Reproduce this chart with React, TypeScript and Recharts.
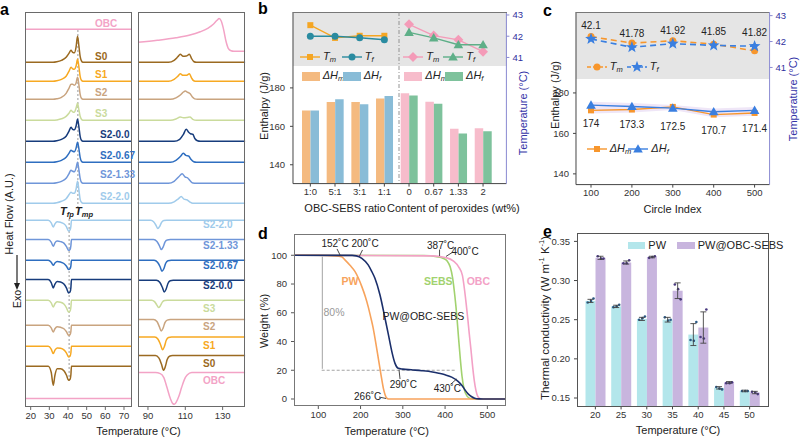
import React from 'react';
import {
  LineChart, Line, XAxis, YAxis, ReferenceLine, ComposedChart, Bar, Cell,
  Area, ErrorBar, LabelList,
} from 'recharts';

const FONT = '"Liberation Sans Narrow", "Liberation Sans", Arial, sans-serif';
const TICK = { fontSize: 9.5, fill: '#333', fontFamily: FONT };

/* ---------------- a: DSC traces ---------------- */
const dscNames = ['OBC', 'S0', 'S1', 'S2', 'S3', 'S2-0.0', 'S2-0.67', 'S2-1.33', 'S2-2.0'];
const dscColors = ['#f3a3c6', '#9b6a21', '#f7a922', '#c9a47f', '#cadb9c', '#173c7c', '#2e6ec0', '#6f96d9', '#a0cbeb'];

// offsets of the stacked traces (A.U.)
const heatBaseL = [377.7, 344.7, 325.7, 307.7, 286.7, 265.7, 244.7, 223.7, 203.7];
const heatBaseR = [355.7, 344.7, 325.7, 307.7, 286.7, 265.7, 244.7, 223.7, 203.7];
const coolBaseL = [8.4, 40.7, 60.7, 81.7, 106.7, 127.4, 146.7, 167.4, 186.7];
const coolBaseR = [34.4, 51.4, 70, 87.4, 106.7, 126.7, 146.7, 167.4, 186.7];

// heating, 17-74 °C
const heatTL = [16.96, 32, 34, 36.5, 39, 40.5, 41.6, 42.5, 43.4, 44.3, 45.1, 45.8, 46.5, 47.2, 48, 74.12];
const heatDyL = [
  [0, 0, 0, 0, 0, 0, 0, 0, 0, 0, 0, 0, 0, 0, 0, 0],
  [0, 0, 0.5, 2, 5, 9, 12, 10, 9.5, 15, 26, 17, 6, 1.5, 0, 0],
  [0, 0, 0.5, 2, 5, 10, 14, 12.5, 12, 15, 22, 15, 5, 1, 0, 0],
  [0, 0, 0.5, 2, 6, 11, 15, 15, 14, 16, 22, 15, 5, 1, 0, 0],
  [0, 0, 0.4, 1.5, 4, 7, 10, 8.5, 8, 12, 17, 11, 4, 1, 0, 0],
  [0, 0, 0.5, 2, 5, 10, 14, 12, 11.5, 15, 22, 15, 5, 1, 0, 0],
  [0, 0, 0.5, 2, 5, 9, 12, 11, 10.5, 14, 20, 14, 5, 1, 0, 0],
  [0, 0, 0.5, 2, 5, 9.5, 13, 12, 11.5, 15, 21, 14, 5, 1, 0, 0],
  [0, 0, 0.5, 2, 4.5, 8.5, 11, 10, 10, 14, 22, 14, 4, 1, 0, 0],
];

// cooling, 17-74 °C
const coolTL = [16.96, 29.4, 31, 32.1, 33, 34.2, 36, 37.8, 39.2, 40.3, 41.1, 41.55, 41.85, 74.12];
const coolDyL = [
  [0, 0, 0, 0, 0, 0, 0, 0, 0, 0, 0, 0, 0, 0],
  [0, 0, -6, -19, -9, -2.5, -2.5, -4.5, -9, -14, -13, -8.5, 0, 0],
  [0, 0, -2.8, -7.3, -3.8, -1.6, -2, -3.6, -6.8, -10.7, -10, -6.5, 0, 0],
  [0, 0, -2.5, -6.7, -3.5, -1.5, -2, -3.5, -6.5, -10, -9.3, -6, 0, 0],
  [0, 0, -2.5, -6.7, -3.5, -1.5, -2, -3.8, -7.5, -11.7, -10.8, -7, 0, 0],
  [0, 0, -3, -8.3, -4.5, -2, -2.5, -4.5, -8.5, -13.3, -12.5, -8, 0, 0],
  [0, 0, -2, -5, -2.8, -1.3, -1.8, -3.2, -6, -9.3, -8.5, -5.5, 0, 0],
  [0, 0, -2.5, -6.7, -3.3, -1.5, -2, -3.5, -7, -10.7, -9.8, -6, 0, 0],
  [0, 0, -2.5, -6.7, -3.5, -1.5, -2, -3.5, -6.5, -10.7, -9.5, -6, 0, 0],
];

// heating, 85-142 °C
const heatR = [
  [[84.66, 9], [95, 11], [105, 13.5], [112, 16], [118, 19.5], [122, 23], [125, 27], [127, 31], [128.1, 32.7], [129.3, 30], [130.5, 22], [131.8, 10], [133, 3], [134.5, 0.5], [136, 0], [142.14, 0]],
  [[84.66, 0], [101, 0], [104, 2], [106, 5.5], [107.3, 8], [108.8, 6], [110.5, 6.2], [112.2, 8], [113.3, 4], [114.5, 0.8], [116, 0], [142.14, 0]],
  [[84.66, 0], [101, 0], [104, 2], [106, 5], [107.3, 7.5], [108.8, 6], [110.5, 6], [112.2, 7.5], [113.3, 3.5], [114.5, 0.6], [116, 0], [142.14, 0]],
  [[84.66, 0], [102, 0], [105, 1.5], [107.5, 4.5], [109, 7.3], [110, 8.3], [111, 7.2], [112.6, 5.5], [113.8, 2.2], [115, 0.4], [116.5, 0], [142.14, 0]],
  [[84.66, 0], [102, 0], [105, 1.3], [107.3, 3.3], [109, 2.6], [110.8, 2.8], [112.5, 3.3], [114, 1], [116, 0], [142.14, 0]],
  [[84.66, 0], [104, 0], [107, 2], [109, 7], [110.5, 12], [111.8, 9], [112.8, 7.5], [114, 7], [115.2, 2.5], [116.5, 0.5], [118, 0], [142.14, 0]],
  [[84.66, 0], [102, 0], [105, 2], [107.5, 6], [108.9, 9], [110.3, 7], [111.8, 6.3], [113, 3], [114.5, 0.5], [116, 0], [142.14, 0]],
  [[84.66, 0], [101, 0], [104, 2], [106.5, 6.5], [108.3, 9.5], [109.8, 6.5], [111.3, 5.3], [112.6, 2.5], [114, 0.3], [116, 0], [142.14, 0]],
  [[84.66, 0], [101, 0], [104, 1.5], [106.3, 4.5], [107.8, 6.7], [109.3, 4.2], [110.8, 3.6], [112.3, 1.5], [114, 0], [142.14, 0]],
];

// cooling, 85-142 °C
const coolR = [
  [[84.66, 0], [94, 0], [96.6, -1], [98.5, -5], [100.2, -15], [102, -26], [103.3, -31], [104.1, -31.7], [105, -30], [106.5, -24], [108, -15], [109.5, -7], [111, -2.5], [113.5, 0], [142.14, 0]],
  [[84.66, 0], [94, 0], [95.9, -2.5], [97.3, -9], [98.3, -14.7], [99.3, -11], [100.3, -4], [101.5, -0.6], [103.2, 0], [142.14, 0]],
  [[84.66, 0], [93.6, 0], [95.4, -2.2], [96.8, -8], [97.8, -12.7], [98.8, -9.5], [99.8, -3.3], [101, -0.5], [102.7, 0], [142.14, 0]],
  [[84.66, 0], [93, 0], [94.8, -2], [96.1, -7], [97.1, -11.3], [98.1, -8.5], [99.1, -3], [100.3, -0.5], [102, 0], [142.14, 0]],
  [[84.66, 0], [92, 0], [93.5, -1.3], [94.7, -4.5], [95.7, -7.3], [96.7, -5.3], [97.7, -1.8], [98.9, -0.3], [100.5, 0], [142.14, 0]],
  [[84.66, 0], [94.5, 0], [96.3, -2], [97.7, -7], [98.7, -11.7], [99.7, -9], [100.7, -3.2], [101.9, -0.5], [103.5, 0], [142.14, 0]],
  [[84.66, 0], [93.3, 0], [95.1, -2], [96.5, -6.5], [97.5, -11], [98.5, -8.5], [99.5, -3], [100.7, -0.5], [102.5, 0], [142.14, 0]],
  [[84.66, 0], [93, 0], [94.8, -1.8], [96.1, -6], [97.1, -10], [98.1, -7.5], [99.1, -2.5], [100.3, -0.4], [102, 0], [142.14, 0]],
  [[84.66, 0], [91.5, 0], [93, -1.5], [94.3, -5], [95.3, -8.3], [96.3, -6], [97.3, -2], [98.5, -0.3], [100, 0], [142.14, 0]],
];

const heatLabelY = [24, 57, 75.3, 93.3, 114, 135.3, 155.7, 175.3, 197];
const coolLabelY = [380.7, 364, 346, 327.3, 308.7, 286, 266, 246, 225];

/* ---------------- b: enthalpy / temperature ---------------- */
const ratioCats = ['1:0', '5:1', '3:1', '1:1'];
const peroxCats = ['0', '0.67', '1.33', '2'];
const hmRatio = [168.2, 172.7, 172.7, 174.5];
const hfRatio = [168.2, 174.1, 171.5, 175.8];
const hmPerox = [177.2, 172.8, 158.7, 159.0];
const hfPerox = [176.0, 171.7, 156.3, 157.5];
const tmRatio = [42.52, 41.92, 42.02, 42.02];
const tfRatio = [42.0, 42.0, 41.93, 41.83];
const tmPerox = [42.56, 42.03, 41.83, 41.27];
const tfPerox = [42.18, 41.92, 41.6, 41.6];

/* ---------------- c: cycling ---------------- */
const cycles = [100, 200, 300, 400, 500];
const tmCycle = [42.19, 41.94, 42.03, 41.9, 41.64];
const tfCycle = [42.1, 41.78, 41.92, 41.85, 41.82];
const hmCycle = [171.4, 171.8, 173.1, 169.3, 170.1];
const hfCycle = [174, 173.3, 172.5, 170.7, 171.4];
const hBandLow = [169.8, 170.3, 171.6, 168, 168.7];
const hBandHigh = [175.6, 175, 174, 172.3, 173];

/* ---------------- d: TGA ---------------- */
const tgaPW = [[40, 100], [100, 100], [140, 99.6], [155, 99], [163, 96.8], [175, 93], [187, 88.6], [195, 84], [203, 78.2], [211, 71.5], [218, 64.3], [224, 57], [230, 49.2], [236, 39], [242, 28.3], [248, 17.5], [254, 7.4], [258, 3], [262, 0.6], [266, 0], [545, 0]];
const tgaComp = [[40, 100], [180, 99.9], [190, 99.6], [203, 97.9], [218, 93.3], [226, 89], [234, 84], [246, 72.4], [258, 56], [266, 44.6], [274, 33], [281.5, 24.8], [289, 21.4], [300, 20.8], [320, 20.3], [345, 19.7], [370, 18.8], [385, 17.9], [400, 16.8], [415.6, 15.2], [431.4, 12.1], [440, 9.4], [447.2, 6.3], [455, 3.4], [463, 1.6], [470, 0.6], [480, 0.1], [490, 0], [545, 0]];
const tgaSEBS = [[40, 100], [350, 99.8], [380, 99], [395, 98], [405, 96], [412, 92], [418, 84], [423, 72], [428, 57], [432, 42], [436, 28], [440, 16], [445, 7], [452, 2], [460, 0.3], [470, 0], [545, 0]];
const tgaOBC = [[40, 100], [370, 99.6], [400, 98.5], [420, 96], [432, 92], [441, 86], [446, 76], [450, 66], [454, 55], [457, 46], [461, 35], [465, 23], [469, 13], [473, 6], [477, 2], [482, 0.4], [490, 0], [545, 0]];

/* ---------------- e: thermal conductivity ---------------- */
const eTemps = ['20', '25', '30', '35', '40', '45', '50'];
const kPW = [0.274, 0.267, 0.251, 0.25, 0.231, 0.163, 0.159];
const kComp = [0.329, 0.323, 0.33, 0.287, 0.24, 0.17, 0.157];
const kPWErr = [0.002, 0.0015, 0.002, 0.003, 0.014, 0.0015, 0.001];
const kCompErr = [0.002, 0.002, 0.001, 0.01, 0.02, 0.001, 0.0015];
const kPWDots = [[0.272, 0.274, 0.277], [0.266, 0.267, 0.269], [0.25, 0.252, 0.254], [0.253, 0.249, 0.25], [0.224, 0.223, 0.247], [0.164, 0.162, 0.161], [0.159, 0.159, 0.159]];
const kCompDots = [[0.331, 0.328, 0.328], [0.322, 0.322, 0.326], [0.329, 0.33, 0.331], [0.295, 0.289, 0.276], [0.228, 0.226, 0.263], [0.169, 0.169, 0.17], [0.158, 0.157, 0.155]];
const E_MIN = 0.1393;

/* ---------------- helpers ---------------- */
type P = { [k: string]: any };

function Txt({ x, y, children, size = 11, color = '#222', bold = false, italic = false, align = 'center', rotate = 0 }: P) {
  const tx = align === 'center' ? '-50%' : align === 'left' ? '0%' : '-100%';
  return (
    <div style={{
      position: 'absolute', left: x, top: y, whiteSpace: 'nowrap', lineHeight: 1,
      fontSize: size, color, fontWeight: bold ? 700 : 400, fontStyle: italic ? 'italic' : 'normal',
      transform: `translate(${tx},-50%)${rotate ? ` rotate(${rotate}deg)` : ''}`,
    }}>{children}</div>
  );
}

function Box({ x, y, w, h, style }: P) {
  return <div style={{ position: 'absolute', left: x, top: y, width: w, height: h, boxSizing: 'border-box', ...style }} />;
}

function marker(kind: string, cx: number, cy: number, s: number, fill: string) {
  if (kind === 'square') return <rect x={cx - s / 2} y={cy - s / 2} width={s} height={s} fill={fill} />;
  if (kind === 'circle') return <circle cx={cx} cy={cy} r={s / 2} fill={fill} />;
  if (kind === 'diamond') {
    const r = s * 0.62;
    return <path d={`M${cx},${cy - r}L${cx + r},${cy}L${cx},${cy + r}L${cx - r},${cy}Z`} fill={fill} />;
  }
  if (kind === 'triangle') {
    const r = s * 0.6;
    return <path d={`M${cx},${cy - r}L${cx + r},${cy + r * 0.75}L${cx - r},${cy + r * 0.75}Z`} fill={fill} />;
  }
  const pts: string[] = [];
  for (let i = 0; i < 10; i++) {
    const rr = i % 2 === 0 ? s * 0.62 : s * 0.26;
    const a = -Math.PI / 2 + (i * Math.PI) / 5;
    pts.push(`${cx + rr * Math.cos(a)},${cy + rr * Math.sin(a)}`);
  }
  return <polygon points={pts.join(' ')} fill={fill} />;
}

const dotOf = (kind: string, color: string, size: number) => (p: any) => {
  const k = `m${p.index}`;
  if (p.cx == null || p.cy == null || p.value == null) return <g key={k} />;
  return <g key={k}>{marker(kind, p.cx, p.cy, size, color)}</g>;
};

function LineKey({ x, y, color, kind, size = 6, dashed = false, children }: P) {
  return (
    <div style={{ position: 'absolute', left: x, top: y - 6, height: 12, display: 'flex', alignItems: 'center' }}>
      <svg width={20} height={12}>
        <line x1={0} y1={6} x2={20} y2={6} stroke={color} strokeWidth={1.4} strokeDasharray={dashed ? '4 2' : undefined} />
        {marker(kind, 10, 6, size, color)}
      </svg>
      <span style={{ marginLeft: 3, fontSize: 11, fontStyle: 'italic', lineHeight: 1 }}>{children}</span>
    </div>
  );
}

function BarKey({ x, y, color, w = 18, h = 9, children, italic = true }: P) {
  return (
    <div style={{ position: 'absolute', left: x, top: y - 6, height: 12, display: 'flex', alignItems: 'center' }}>
      <div style={{ width: w, height: h, background: color }} />
      <span style={{ marginLeft: 3, fontSize: 11, fontStyle: italic ? 'italic' : 'normal', lineHeight: 1 }}>{children}</span>
    </div>
  );
}

const sub = (s: string) => <sub style={{ fontSize: 7.5, verticalAlign: -2 }}>{s}</sub>;

const stack = (pairs: number[][], base: number) => pairs.map(([x, d]) => ({ x, y: base + d }));
const fromTemplate = (t: number[], dy: number[]) => t.map((x, i) => [x, dy[i]]);
const toXY = (pairs: number[][]) => pairs.map(([x, y]) => ({ x, y }));

/* ---------------- panel a ---------------- */
function DscChart({ x, w, domain, ticks, series, children }: P) {
  return (
    <div style={{ position: 'absolute', left: x - 2, top: 9.7 }}>
      <LineChart width={w + 4} height={2 + 395 + 22} margin={{ top: 2, right: 2, bottom: 0, left: 2 }}>
        <XAxis type="number" dataKey="x" domain={domain} ticks={ticks} allowDataOverflow tick={TICK}
          tickSize={3} axisLine={false} tickLine={{ stroke: '#666' }} height={22} />
        <YAxis type="number" domain={[0, 395]} hide allowDataOverflow />
        {children}
        {series.map((s: P) => (
          <Line key={s.id} data={s.data} dataKey="y" type="monotone" stroke={s.color} strokeWidth={1.5}
            dot={false} isAnimationActive={false} />
        ))}
      </LineChart>
    </div>
  );
}

function PanelA() {
  const left = dscNames.flatMap((n, i) => [
    { id: `h${n}`, color: dscColors[i], data: stack(fromTemplate(heatTL, heatDyL[i]), heatBaseL[i]) },
    { id: `c${n}`, color: dscColors[i], data: stack(fromTemplate(coolTL, coolDyL[i]), coolBaseL[i]) },
  ]);
  const right = dscNames.flatMap((n, i) => [
    { id: `h${n}`, color: dscColors[i], data: stack(heatR[i], heatBaseR[i]) },
    { id: `c${n}`, color: dscColors[i], data: stack(coolR[i], coolBaseR[i]) },
  ]);
  return (
    <>
      <DscChart x={25} w={106.7} domain={[16.96, 74.12]} ticks={[20, 30, 40, 50, 60, 70]} series={left}>
        <ReferenceLine segment={[{ x: 45.3, y: 377 }, { x: 45.3, y: 200 }]} stroke="#999" strokeDasharray="2 2" />
        <ReferenceLine segment={[{ x: 40.6, y: 188 }, { x: 40.6, y: 24 }]} stroke="#999" strokeDasharray="2 2" />
      </DscChart>
      <DscChart x={137.7} w={107.3} domain={[84.66, 142.14]} ticks={[90, 100, 110, 120, 130]} series={right} />
      <Box x={25} y={11.7} w={106.7} h={395} style={{ border: '1px solid #6a6a6a' }} />
      <Box x={137.7} y={11.7} w={107.3} h={395} style={{ border: '1px solid #6a6a6a' }} />
      {dscNames.map((n, i) => (
        <Txt key={`hl${n}`} x={i < 5 ? 95 : 100} y={heatLabelY[i]} size={10} bold color={dscColors[i]} align="left">{n}</Txt>
      ))}
      {dscNames.map((n, i) => (
        <Txt key={`cl${n}`} x={203} y={coolLabelY[i]} size={10} bold color={dscColors[i]} align="left">{n}</Txt>
      ))}
      <Txt x={67} y={212} size={11} bold italic>T{sub('fp')}</Txt>
      <Txt x={84} y={212} size={11} bold italic>T{sub('mp')}</Txt>
      <Txt x={4.5} y={10} size={16} bold color="#000">a</Txt>
      <Txt x={9} y={214} size={11} rotate={-90}>Heat Flow (A.U.)</Txt>
      <svg style={{ position: 'absolute', left: 12, top: 252, overflow: 'visible' }} width={10} height={40}>
        <line x1={5} y1={3} x2={5} y2={32} stroke="#222" strokeWidth={1.2} />
        <path d="M2,31 L8,31 L5,38 Z" fill="#222" />
      </svg>
      <Txt x={17} y={299} size={10.5} rotate={-90}>Exo</Txt>
      <Txt x={138.5} y={430.5} size={11}>Temperature (°C)</Txt>
    </>
  );
}

/* ---------------- panel b ---------------- */
function PanelB() {
  const data = [...ratioCats, ...peroxCats].map((cat, i) => ({
    cat,
    hm: i < 4 ? hmRatio[i] : hmPerox[i - 4],
    hf: i < 4 ? hfRatio[i] : hfPerox[i - 4],
    tm1: i < 4 ? tmRatio[i] : null,
    tf1: i < 4 ? tfRatio[i] : null,
    tm2: i >= 4 ? tmPerox[i - 4] : null,
    tf2: i >= 4 ? tfPerox[i - 4] : null,
  }));
  const fx = 293.3, fy = 11.7, fw = 213.4, fh = 171.6;
  return (
    <>
      <Box x={fx} y={fy} w={fw} h={66 - fy} style={{ background: '#e5e5e5' }} />
      <div style={{ position: 'absolute', left: fx - 2 - 32, top: fy - 2 }}>
        <ComposedChart width={2 + 32 + fw + 24 + 4} height={2 + fh + 22} data={data}
          margin={{ top: 2, right: 4, bottom: 0, left: 2 }} barGap={0}>
          <XAxis dataKey="cat" interval={0} padding={{ left: 5, right: 11 }} tick={TICK} tickSize={3}
            height={22} stroke="#444" />
          <YAxis yAxisId="h" domain={[130.2, 219.5]} ticks={[140, 160, 180]} allowDataOverflow width={32}
            tick={TICK} tickSize={3} tickMargin={5} stroke="#444" />
          <YAxis yAxisId="t" orientation="right" domain={[35.06, 43.14]} ticks={[41, 42, 43]} allowDataOverflow
            width={24} tick={{ ...TICK, fill: '#2f2f9e' }} tickSize={3} tickMargin={3} stroke="#8a8ad2" />
          <Bar yAxisId="h" dataKey="hm" barSize={8.5} isAnimationActive={false}>
            {data.map((d, i) => <Cell key={d.cat} fill={i < 4 ? '#f4ba80' : '#f7bccb'} />)}
          </Bar>
          <Bar yAxisId="h" dataKey="hf" barSize={8.5} isAnimationActive={false}>
            {data.map((d, i) => <Cell key={d.cat} fill={i < 4 ? '#89bcd7' : '#7ec29c'} />)}
          </Bar>
          <Line yAxisId="t" dataKey="tm1" stroke="#f5a623" strokeWidth={1.4} dot={dotOf('square', '#f5a623', 6)} isAnimationActive={false} />
          <Line yAxisId="t" dataKey="tf1" stroke="#2a8ba0" strokeWidth={1.4} dot={dotOf('circle', '#2a8ba0', 7)} isAnimationActive={false} />
          <Line yAxisId="t" dataKey="tm2" stroke="#f49bb8" strokeWidth={1.4} dot={dotOf('diamond', '#f49bb8', 8)} isAnimationActive={false} />
          <Line yAxisId="t" dataKey="tf2" stroke="#5eaf88" strokeWidth={1.4} dot={dotOf('triangle', '#5eaf88', 8)} isAnimationActive={false} />
        </ComposedChart>
      </div>
      <Box x={fx} y={fy} w={fw} h={1} style={{ background: '#777' }} />
      <svg style={{ position: 'absolute', left: 397, top: fy }} width={4} height={fh}>
        <line x1={2} y1={0} x2={2} y2={fh} stroke="#888" strokeWidth={0.9} strokeDasharray="4 2 1 2" />
      </svg>
      <LineKey x={300} y={57.3} color="#f5a623" kind="square">T{sub('m')}</LineKey>
      <LineKey x={341.7} y={57.3} color="#2a8ba0" kind="circle" size={7}>T{sub('f')}</LineKey>
      <LineKey x={403.3} y={57.3} color="#f49bb8" kind="diamond" size={8}>T{sub('m')}</LineKey>
      <LineKey x={443.3} y={57.3} color="#5eaf88" kind="triangle" size={8}>T{sub('f')}</LineKey>
      <BarKey x={301.7} y={76} color="#f4ba80">ΔH{sub('m')}</BarKey>
      <BarKey x={342.7} y={76} color="#89bcd7">ΔH{sub('f')}</BarKey>
      <BarKey x={404.3} y={76} color="#f7bccb">ΔH{sub('m')}</BarKey>
      <BarKey x={445} y={76} color="#7ec29c">ΔH{sub('f')}</BarKey>
      <Txt x={263} y={9} size={16} bold color="#000">b</Txt>
      <Txt x={264} y={106} size={11} rotate={-90}>Enthalpy (J/g)</Txt>
      <Txt x={523} y={113} size={11} rotate={-90} color="#3535a8">Temperature (°C)</Txt>
      <Txt x={345} y={208} size={11}>OBC-SEBS ratio</Txt>
      <Txt x={453.3} y={208} size={11}>Content of peroxides (wt%)</Txt>
    </>
  );
}

/* ---------------- panel c ---------------- */
function PanelC() {
  const data = cycles.map((cycle, i) => ({
    cycle, tm: tmCycle[i], tf: tfCycle[i], hm: hmCycle[i], hf: hfCycle[i], band: [hBandLow[i], hBandHigh[i]],
  }));
  const fx = 575.7, fy = 11.7, fw = 193.6, fh = 172.6;
  const above = (p: any) => (
    <text x={p.x} y={p.y - 13.5} textAnchor="middle" dominantBaseline="central" fontSize={10} fill="#222" fontFamily={FONT}>{p.value}</text>
  );
  const below = (p: any) => (
    <text x={p.x} y={p.y + 18.5} textAnchor="middle" dominantBaseline="central" fontSize={10} fill="#222" fontFamily={FONT}>{p.value}</text>
  );
  return (
    <>
      <Box x={fx} y={fy} w={fw} h={79 - fy} style={{ background: '#e5e5e5' }} />
      <div style={{ position: 'absolute', left: fx - 2 - 30, top: fy - 2 }}>
        <ComposedChart width={2 + 30 + fw + 22 + 4} height={2 + fh + 22} data={data}
          margin={{ top: 2, right: 4, bottom: 0, left: 2 }}>
          <XAxis type="number" dataKey="cycle" domain={[63.3, 536.7]} ticks={[100, 200, 300, 400, 500]}
            allowDataOverflow tick={TICK} tickSize={3} height={22} stroke="#444" />
          <YAxis yAxisId="h" domain={[134.7, 220]} ticks={[140, 160, 180]} allowDataOverflow width={30}
            tick={TICK} tickSize={3} tickMargin={4} stroke="#444" />
          <YAxis yAxisId="t" orientation="right" domain={[36.48, 43.14]} ticks={[41, 42, 43]} allowDataOverflow
            width={22} tick={{ ...TICK, fill: '#2f2f9e' }} tickSize={3} tickMargin={3} stroke="#8a8ad2" />
          <Area yAxisId="h" dataKey="band" type="linear" stroke="none" fill="#efe6f7" fillOpacity={1} isAnimationActive={false} />
          <Line yAxisId="h" dataKey="hm" stroke="#f7962c" strokeWidth={1.4} dot={dotOf('square', '#f7962c', 6)} isAnimationActive={false} />
          <Line yAxisId="h" dataKey="hf" stroke="#3a7fe0" strokeWidth={1.4} dot={dotOf('triangle', '#3a7fe0', 8)} isAnimationActive={false}>
            <LabelList dataKey="hf" content={below} />
          </Line>
          <Line yAxisId="t" dataKey="tm" stroke="#f7962c" strokeWidth={1.6} strokeDasharray="6 4" dot={dotOf('circle', '#f7962c', 7)} isAnimationActive={false} />
          <Line yAxisId="t" dataKey="tf" stroke="#3a7fe0" strokeWidth={1.6} strokeDasharray="6 4" dot={dotOf('star', '#3a7fe0', 10)} isAnimationActive={false}>
            <LabelList dataKey="tf" content={above} />
          </Line>
        </ComposedChart>
      </div>
      <Box x={fx} y={fy} w={fw} h={1} style={{ background: '#777' }} />
      <LineKey x={586.7} y={67.3} color="#f7962c" kind="circle" size={7} dashed>T{sub('m')}</LineKey>
      <LineKey x={626.7} y={67.3} color="#3a7fe0" kind="star" size={10} dashed>T{sub('f')}</LineKey>
      <LineKey x={586.7} y={149} color="#f7962c" kind="square">ΔH{sub('m')}</LineKey>
      <LineKey x={628.3} y={149} color="#3a7fe0" kind="triangle" size={8}>ΔH{sub('f')}</LineKey>
      <Txt x={547.5} y={10.5} size={16} bold color="#000">c</Txt>
      <Txt x={555} y={95} size={11} rotate={-90}>Enthalpy (J/g)</Txt>
      <Txt x={793} y={99} size={11} rotate={-90} color="#3535a8">Temperature (°C)</Txt>
      <Txt x={672.5} y={208.5} size={11}>Circle Index</Txt>
    </>
  );
}

/* ---------------- panel d ---------------- */
function PanelD() {
  const fx = 294, fy = 234, fw = 211.7, fh = 172;
  const seg = (a: number[], b: number[], k: string) => (
    <ReferenceLine key={k} segment={[{ x: a[0], y: a[1] }, { x: b[0], y: b[1] }]} stroke="#333" strokeWidth={0.9} ifOverflow="visible" />
  );
  return (
    <>
      <div style={{ position: 'absolute', left: fx - 2 - 30, top: fy - 2 }}>
        <LineChart width={2 + 30 + fw + 6} height={2 + fh + 22} margin={{ top: 2, right: 6, bottom: 0, left: 2 }}>
          <XAxis type="number" dataKey="x" domain={[42.5, 543.4]} ticks={[100, 200, 300, 400, 500]} allowDataOverflow
            tick={TICK} tickSize={3} height={22} axisLine={false} tickLine={{ stroke: '#555' }} />
          <YAxis type="number" domain={[-4.87, 114.8]} ticks={[0, 20, 40, 60, 80, 100]} allowDataOverflow width={30}
            tick={TICK} tickSize={3} tickMargin={4} axisLine={false} tickLine={{ stroke: '#555' }} />
          <ReferenceLine segment={[{ x: 108, y: 20 }, { x: 425, y: 20 }]} stroke="#999" strokeDasharray="3 2" strokeWidth={0.9} />
          <ReferenceLine segment={[{ x: 109.5, y: 99 }, { x: 109.5, y: 21 }]} stroke="#999" strokeWidth={0.9} />
          <Line data={toXY(tgaSEBS)} dataKey="y" type="monotone" stroke="#a2d26f" strokeWidth={1.6} dot={false} isAnimationActive={false} />
          <Line data={toXY(tgaOBC)} dataKey="y" type="monotone" stroke="#f3a1c6" strokeWidth={1.6} dot={false} isAnimationActive={false} />
          <Line data={toXY(tgaPW)} dataKey="y" type="monotone" stroke="#f7a35c" strokeWidth={1.6} dot={false} isAnimationActive={false} />
          <Line data={toXY(tgaComp)} dataKey="y" type="monotone" stroke="#1b2f6b" strokeWidth={1.6} dot={false} isAnimationActive={false} />
          {seg([144.3, 104.4], [151.4, 100.2], 'a1')}
          {seg([204.6, 103.7], [197.5, 99.5], 'a2')}
          {seg([386.9, 104], [386.9, 99.5], 'a3')}
          {seg([418.8, 102.3], [402.2, 99.2], 'a4')}
          {seg([293.4, 13.9], [291, 20.2], 'a5')}
          {seg([414, 10.4], [427.1, 13.9], 'a6')}
          {seg([243.7, 1.4], [260.2, 0.35], 'a7')}
        </LineChart>
      </div>
      <Box x={fx} y={fy} w={fw} h={fh} style={{ border: '1px solid #777' }} />
      <Txt x={335} y={244.3} size={10}>152˚C</Txt>
      <Txt x={365} y={244.3} size={10}>200˚C</Txt>
      <Txt x={440.7} y={245.7} size={10}>387˚C</Txt>
      <Txt x={465} y={251.7} size={10}>400˚C</Txt>
      <Txt x={350} y={280.7} size={10.5} bold color="#f7a35c">PW</Txt>
      <Txt x={438.3} y={280.7} size={10.5} bold color="#a2d26f">SEBS</Txt>
      <Txt x={478.3} y={280.7} size={10.5} bold color="#f3a1c6">OBC</Txt>
      <Txt x={334} y={311.7} size={10.5} color="#999">80%</Txt>
      <Txt x={423.3} y={315.7} size={10.5}>PW@OBC-SEBS</Txt>
      <Txt x={403.3} y={385} size={10}>290˚C</Txt>
      <Txt x={447.3} y={389} size={10}>430˚C</Txt>
      <Txt x={367.7} y={396.7} size={10}>266˚C</Txt>
      <Txt x={263} y={234} size={16} bold color="#000">d</Txt>
      <Txt x={263.5} y={321} size={11} rotate={-90}>Weight (%)</Txt>
      <Txt x={386.7} y={431} size={11}>Temperature (°C)</Txt>
    </>
  );
}

/* ---------------- panel e ---------------- */
const dotBar = (valueKey: string, dotsKey: string, dotFill: string) => (p: any) => {
  const { x, y, width, height, fill, payload } = p;
  const v = payload[valueKey];
  const per = height / (v - E_MIN);
  const base = y + height;
  const offs = [-0.28, 0.05, 0.3];
  return (
    <g>
      <rect x={x} y={y} width={width} height={height} fill={fill} />
      {payload[dotsKey].map((d: number, i: number) => (
        <circle key={i} cx={x + width / 2 + offs[i] * width} cy={base - (d - E_MIN) * per} r={1.3} fill={dotFill} />
      ))}
    </g>
  );
};

function PanelE() {
  const data = eTemps.map((t, i) => ({
    t, pw: kPW[i], comp: kComp[i], pwErr: kPWErr[i], compErr: kCompErr[i], pwDots: kPWDots[i], compDots: kCompDots[i],
  }));
  const fx = 577.3, fy = 233.3, fw = 192, fh = 173.4;
  return (
    <>
      <div style={{ position: 'absolute', left: fx - 2 - 34, top: fy - 2 }}>
        <ComposedChart width={2 + 34 + fw + 6} height={2 + fh + 22} data={data}
          margin={{ top: 2, right: 6, bottom: 0, left: 2 }} barGap={0}>
          <XAxis dataKey="t" interval={0} padding={{ left: 5.5, right: 6.5 }} tick={TICK} tickSize={3} height={22}
            axisLine={false} tickLine={{ stroke: '#444' }} />
          <YAxis domain={[0.1393, 0.3607]} ticks={[0.15, 0.2, 0.25, 0.3, 0.35]} allowDataOverflow width={34}
            tickFormatter={(v: number) => v.toFixed(2)} tick={TICK} tickSize={3} tickMargin={4} axisLine={false}
            tickLine={{ stroke: '#444' }} />
          <Bar dataKey="pw" barSize={10} fill="#b3e6eb" isAnimationActive={false} shape={dotBar('pw', 'pwDots', '#2b5a86')}>
            <ErrorBar dataKey="pwErr" width={3} stroke="#444" strokeWidth={0.9} direction="y" />
          </Bar>
          <Bar dataKey="comp" barSize={10} fill="#c8b5de" isAnimationActive={false} shape={dotBar('comp', 'compDots', '#4a3a80')}>
            <ErrorBar dataKey="compErr" width={3} stroke="#444" strokeWidth={0.9} direction="y" />
          </Bar>
        </ComposedChart>
      </div>
      <Box x={fx} y={fy} w={fw} h={fh} style={{ border: '1px solid #555' }} />
      <BarKey x={628.3} y={245.8} color="#b3e6eb" w={17} h={7} italic={false}>PW</BarKey>
      <BarKey x={676.7} y={245.8} color="#c8b5de" w={18} h={7} italic={false}>PW@OBC-SEBS</BarKey>
      <Txt x={547.5} y={231.5} size={16} bold color="#000">e</Txt>
      <Txt x={545} y={318} size={11.5} rotate={-90}>Thermal conductivity (W m<sup style={{ fontSize: 7.5 }}>-1</sup> K<sup style={{ fontSize: 7.5 }}>-1</sup>)</Txt>
      <Txt x={678} y={430} size={11}>Temperature (°C)</Txt>
    </>
  );
}

export default function App() {
  return (
    <div style={{
      position: 'absolute', left: 0, top: 0, width: 800, height: 438, background: '#fff',
      overflow: 'hidden', fontFamily: FONT, color: '#222',
    }}>
      <PanelA />
      <PanelB />
      <PanelC />
      <PanelD />
      <PanelE />
    </div>
  );
}
